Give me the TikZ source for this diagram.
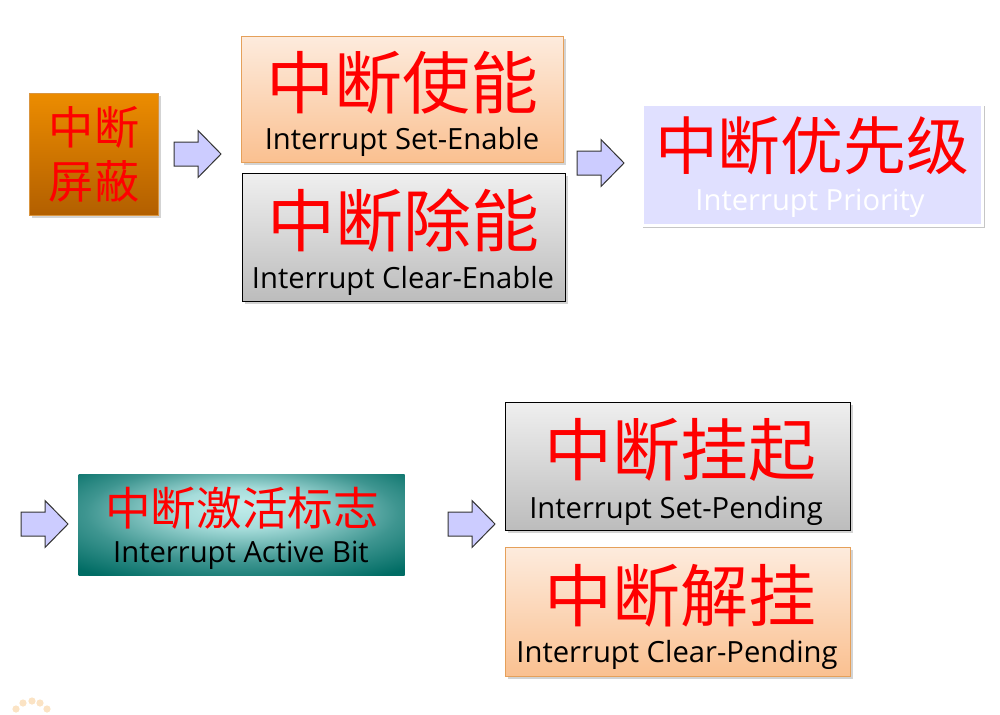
\documentclass[tikz,border=0pt]{standalone}
\usepackage{fontspec}
\setmainfont{Open Sans}
\newfontfamily\cjk{Noto Sans CJK SC}
\usetikzlibrary{shadows}
\definecolor{peacht}{HTML}{FDEBDD}
\definecolor{peachbot}{HTML}{FAC090}
\definecolor{peachb}{HTML}{E5A05A}
\definecolor{grayt}{HTML}{EFEFEF}
\definecolor{graybot}{HTML}{BCBCBC}
\definecolor{maskt}{HTML}{EC8C00}
\definecolor{maskbot}{HTML}{B25F00}
\definecolor{maskb}{HTML}{D99540}
\definecolor{lav}{HTML}{E0E0FF}
\definecolor{tealin}{HTML}{C2EDEB}
\definecolor{tealhi}{HTML}{A6DCDA}
\definecolor{tealmid}{HTML}{3E9590}
\definecolor{tealout}{HTML}{006C64}
\definecolor{arrfill}{HTML}{CCCCFF}
\definecolor{arrdraw}{HTML}{333333}
\definecolor{dotc}{HTML}{FBE3C4}
\pgfdeclareradialshading{tealrad}{\pgfpoint{0bp}{10bp}}{%
  color(0bp)=(tealin); color(10bp)=(tealhi); color(24bp)=(tealmid);
  color(36bp)=(tealout); color(60bp)=(tealout)}
\tikzset{
  box/.style={inner sep=0pt, anchor=north west, line width=0.6pt},
  shad/.style={drop shadow={opacity=0.35, shadow xshift=1pt, shadow yshift=-1pt}},
  peachbox/.style={box, shad, draw=peachb, top color=peacht, bottom color=peachbot},
  graybox/.style={box, shad, draw=black, top color=grayt, bottom color=graybot},
  maskbox/.style={box, shad, draw=maskb, top color=maskt, bottom color=maskbot},
  prbox/.style={box, draw=white, line width=1.6pt, fill=lav,
    drop shadow={opacity=0.45, shadow xshift=0.9pt, shadow yshift=-0.9pt, shadow scale=1.006}},
  actbox/.style={box, shading=tealrad},
  cnbig/.style={inner sep=0pt, text=red, font=\cjk\fontsize{34}{36}\selectfont},
  cnmid/.style={inner sep=0pt, text=red, font=\cjk\fontsize{31.4}{34}\selectfont},
  cnsmall/.style={inner sep=0pt, text=red, font=\cjk\fontsize{22.8}{25}\selectfont},
  cnmask/.style={inner sep=0pt, text=red, font=\cjk\fontsize{22.6}{24}\selectfont},
  entxt/.style={inner sep=0pt, anchor=base, font=\fontsize{14.6}{17}\selectfont},
  blockarr/.pic={\draw[fill=arrfill, draw=arrdraw, line width=0.5pt]
    (0,-12) -- (24,-12) -- (24,-23.5) -- (47,0) -- (24,23.5) -- (24,12) -- (0,12) -- cycle;},
  deco/.style={fill=dotc, draw=none}
}
\begin{document}
\begin{tikzpicture}[x=0.5pt,y=-0.5pt]
\useasboundingbox (0,0) rectangle (1000,714);
% mask
\node[maskbox, minimum width=64.5pt, minimum height=61pt] (mask) at (29,93) {};
\node[cnmask] (mask1) at (94,127) {中断};
\node[cnmask] (mask2) at (94,181) {屏蔽};
% set-enable
\node[peachbox, minimum width=161pt, minimum height=63pt] (se) at (241,36) {};
\node[cnbig] (secn) at (402,83) {中断使能};
\node[entxt] (seen) at (402,149) {Interrupt Set-Enable};
% clear-enable
\node[graybox, minimum width=161.5pt, minimum height=64pt] (ce) at (242,173) {};
\node[cnbig] (cecn) at (403,221) {中断除能};
\node[entxt] (ceen) at (403,288) {Interrupt Clear-Enable};
% priority
\node[prbox, minimum width=170pt, minimum height=60.5pt] (pr) at (641,103) {};
\node[cnmid] (prcn) at (812,146) {中断优先级};
\node[entxt, text=white] (pren) at (810,210) {Interrupt Priority};
% active
\node[actbox, minimum width=163pt, minimum height=50.5pt] (ac) at (78,474) {};
\node[cnsmall] (accn) at (242,508) {中断激活标志};
\node[entxt] (acen) at (241,562) {Interrupt Active Bit};
% set-pending
\node[graybox, minimum width=172.5pt, minimum height=64pt] (sp) at (505,402) {};
\node[cnbig] (spcn) at (680,450) {中断挂起};
\node[entxt] (spen) at (676,518) {Interrupt Set-Pending};
% clear-pending
\node[peachbox, minimum width=172.5pt, minimum height=64.5pt] (cp) at (505,547) {};
\node[cnbig] (cpcn) at (680,596) {中断解挂};
\node[entxt] (cpen) at (677,662) {Interrupt Clear-Pending};
% arrows
\pic at (174,154) {blockarr};
\pic at (577,163) {blockarr};
\pic at (21,524) {blockarr};
\pic at (448,524) {blockarr};
% decoration dots
\foreach \px/\py in {16/709, 23/703, 32/701, 40/703, 47/709}
  \fill[deco] (\px,\py) circle (1.8pt);
\end{tikzpicture}
\end{document}
